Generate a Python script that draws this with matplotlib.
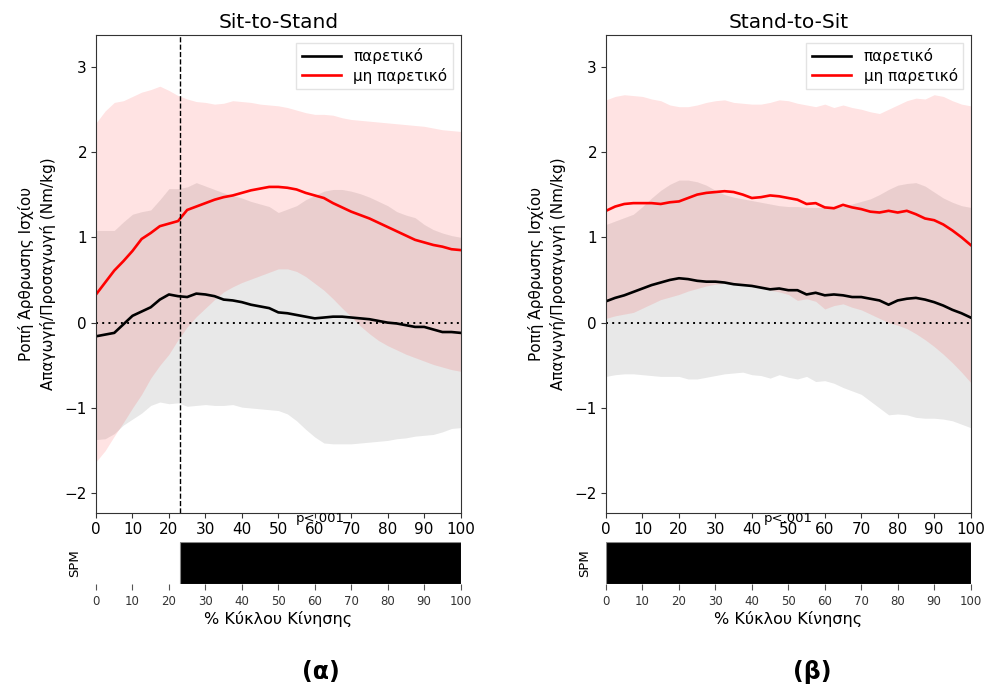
# Ροπή ισχίου - SPM (Sit-to-Stand / Stand-to-Sit)
import matplotlib
matplotlib.use('Agg')
import matplotlib.pyplot as plt
import numpy as np

# Dados (x = % ciclo)
x = np.arange(0, 100.1, 2.5)

# Sit-to-Stand
sts_red_mean = [0.33, 0.47, 0.61, 0.72, 0.84, 0.98, 1.05, 1.13, 1.16, 1.19, 1.32, 1.36, 1.40, 1.44,
                1.47, 1.49, 1.52, 1.55, 1.57, 1.59, 1.59, 1.58, 1.56, 1.52, 1.49, 1.46, 1.40, 1.35,
                1.30, 1.26, 1.22, 1.17, 1.12, 1.07, 1.02, 0.97, 0.94, 0.91, 0.89, 0.86, 0.85]
sts_red_up = [2.34, 2.48, 2.58, 2.60, 2.65, 2.70, 2.73, 2.77, 2.72, 2.66, 2.62, 2.59, 2.58, 2.56,
              2.57, 2.60, 2.59, 2.58, 2.56, 2.55, 2.54, 2.52, 2.49, 2.46, 2.44, 2.44, 2.43, 2.40,
              2.38, 2.37, 2.36, 2.35, 2.34, 2.33, 2.32, 2.31, 2.30, 2.28, 2.26, 2.25, 2.24]
sts_red_low = [-1.63, -1.50, -1.33, -1.17, -1.00, -0.84, -0.65, -0.50, -0.37, -0.20, -0.05, 0.07,
               0.17, 0.27, 0.36, 0.42, 0.47, 0.51, 0.55, 0.59, 0.63, 0.63, 0.60, 0.54, 0.46, 0.38,
               0.28, 0.17, 0.07, -0.04, -0.13, -0.21, -0.27, -0.32, -0.37, -0.41, -0.45, -0.49,
               -0.52, -0.55, -0.57]
sts_blk_mean = [-0.16, -0.14, -0.12, -0.02, 0.08, 0.13, 0.18, 0.27, 0.33, 0.31, 0.30, 0.34, 0.33,
                0.31, 0.27, 0.26, 0.24, 0.21, 0.19, 0.17, 0.12, 0.11, 0.09, 0.07, 0.05, 0.06, 0.07,
                0.07, 0.06, 0.05, 0.04, 0.02, 0.00, -0.01, -0.03, -0.05, -0.05, -0.08, -0.11,
                -0.11, -0.12]
sts_blk_up = [1.08, 1.08, 1.08, 1.18, 1.27, 1.30, 1.32, 1.44, 1.57, 1.57, 1.59, 1.64, 1.60, 1.56,
              1.52, 1.49, 1.46, 1.42, 1.39, 1.36, 1.29, 1.33, 1.37, 1.44, 1.49, 1.54, 1.56, 1.56,
              1.54, 1.51, 1.47, 1.42, 1.37, 1.30, 1.26, 1.23, 1.15, 1.09, 1.05, 1.02, 1.00]
sts_blk_low = [-1.37, -1.36, -1.30, -1.20, -1.13, -1.06, -0.97, -0.93, -0.95, -0.94, -0.98, -0.97,
               -0.96, -0.97, -0.97, -0.96, -0.99, -1.00, -1.01, -1.02, -1.03, -1.07, -1.15, -1.25,
               -1.34, -1.41, -1.42, -1.42, -1.42, -1.41, -1.40, -1.39, -1.38, -1.36, -1.35, -1.33,
               -1.32, -1.31, -1.28, -1.24, -1.23]

# Stand-to-Sit
sit_red_mean = [1.31, 1.36, 1.39, 1.40, 1.40, 1.40, 1.39, 1.41, 1.42, 1.46, 1.50, 1.52, 1.53, 1.54,
                1.53, 1.50, 1.46, 1.47, 1.49, 1.48, 1.46, 1.44, 1.39, 1.40, 1.35, 1.34, 1.38, 1.35,
                1.33, 1.30, 1.29, 1.31, 1.29, 1.31, 1.27, 1.22, 1.20, 1.15, 1.08, 1.00, 0.91]
sit_red_up = [2.61, 2.65, 2.67, 2.66, 2.65, 2.62, 2.60, 2.55, 2.53, 2.53, 2.55, 2.58, 2.60, 2.61,
              2.58, 2.57, 2.56, 2.56, 2.58, 2.61, 2.60, 2.57, 2.55, 2.53, 2.56, 2.52, 2.55, 2.52,
              2.50, 2.47, 2.45, 2.50, 2.55, 2.60, 2.63, 2.62, 2.67, 2.65, 2.60, 2.56, 2.54]
sit_red_low = [0.05, 0.08, 0.10, 0.12, 0.17, 0.22, 0.27, 0.30, 0.33, 0.37, 0.40, 0.43, 0.45, 0.46,
               0.45, 0.45, 0.44, 0.41, 0.38, 0.36, 0.33, 0.26, 0.28, 0.25, 0.16, 0.20, 0.22, 0.18,
               0.15, 0.10, 0.05, 0.00, -0.03, -0.07, -0.13, -0.20, -0.28, -0.37, -0.47, -0.58, -0.70]
sit_blk_mean = [0.25, 0.29, 0.32, 0.36, 0.40, 0.44, 0.47, 0.50, 0.52, 0.51, 0.49, 0.48, 0.48, 0.47,
                0.45, 0.44, 0.43, 0.41, 0.39, 0.40, 0.38, 0.38, 0.33, 0.35, 0.32, 0.33, 0.32, 0.30,
                0.30, 0.28, 0.26, 0.21, 0.26, 0.28, 0.29, 0.27, 0.24, 0.20, 0.15, 0.11, 0.06]
sit_blk_up = [1.15, 1.19, 1.23, 1.27, 1.36, 1.46, 1.55, 1.62, 1.67, 1.67, 1.65, 1.61, 1.55, 1.50,
              1.47, 1.45, 1.43, 1.41, 1.39, 1.37, 1.36, 1.36, 1.35, 1.35, 1.35, 1.35, 1.36, 1.39,
              1.42, 1.45, 1.50, 1.56, 1.61, 1.63, 1.64, 1.60, 1.53, 1.46, 1.41, 1.37, 1.35]
sit_blk_low = [-0.63, -0.61, -0.60, -0.60, -0.61, -0.62, -0.63, -0.63, -0.63, -0.66, -0.66, -0.64,
               -0.62, -0.60, -0.59, -0.58, -0.61, -0.62, -0.65, -0.61, -0.64, -0.66, -0.63, -0.69,
               -0.68, -0.71, -0.76, -0.80, -0.84, -0.92, -1.00, -1.08, -1.07, -1.08, -1.11, -1.12,
               -1.12, -1.13, -1.15, -1.19, -1.23]

# clusters SPM (início, fim) e p
sts_cluster = (23, 100)
sit_cluster = (0, 100)
p_text = 'p<.001'

titulos = ['Sit-to-Stand', 'Stand-to-Sit']
legendas = ['παρετικό', 'μη παρετικό']
ylabel = 'Ροπή Άρθρωσης Ισχίου\nΑπαγωγή/Προσαγωγή (Nm/kg)'
xlabel = '% Κύκλου Κίνησης'
rotulos = ['(α)', '(β)']

plt.rcParams['font.family'] = ['DejaVu Sans']

fig = plt.figure(figsize=(9.88, 6.91), dpi=100)

painel = [
    (sts_red_mean, sts_red_up, sts_red_low, sts_blk_mean, sts_blk_up, sts_blk_low, sts_cluster, 23),
    (sit_red_mean, sit_red_up, sit_red_low, sit_blk_mean, sit_blk_up, sit_blk_low, sit_cluster, None),
]
lefts = [0.0972, 0.6134]
rot_x = [0.325, 0.822]

for i, (rm, ru, rl, bm, bu, bl, cl, vline) in enumerate(painel):
    ax = fig.add_axes([lefts[i], 0.2576, 0.3690, 0.6918])
    ax.fill_between(x, bl, bu, color='k', alpha=0.09, lw=0)
    ax.fill_between(x, rl, ru, color='red', alpha=0.11, lw=0)
    ax.plot(x, bm, color='k', lw=1.9, label=legendas[0])
    ax.plot(x, rm, color='red', lw=1.9, label=legendas[1])
    ax.axhline(0, color='k', ls=(0, (1, 2.2)), lw=1.4)
    if vline is not None:
        ax.axvline(vline, color='k', ls='--', lw=1.0)
    ax.set_xlim(0, 100)
    ax.set_ylim(-2.23, 3.37)
    ax.set_xticks(range(0, 101, 10))
    ax.set_yticks([-2, -1, 0, 1, 2, 3])
    ax.tick_params(labelsize=11, length=3.5, color='#333333', pad=3)
    for s in ax.spines.values():
        s.set_color('#333333')
    ax.set_title(titulos[i], fontsize=14.5, pad=5)
    ax.set_ylabel(ylabel, fontsize=11, linespacing=1.45)
    ax.yaxis.set_label_coords(-0.11, 0.5)
    ax.legend(loc='upper right', fontsize=11, handlelength=2.6, labelspacing=0.25,
              borderpad=0.35, fancybox=False, edgecolor='#dddddd')
    ax.text((cl[0] + cl[1]) / 2, -0.011, p_text, transform=ax.get_xaxis_transform(),
            ha='center', va='center', fontsize=9.5)

    # eixo SPM
    ax2 = fig.add_axes([lefts[i], 0.1548, 0.3690, 0.0608])
    ax2.bar(cl[0], 1, width=cl[1] - cl[0], align='edge', color='k', edgecolor='#888888', lw=0.8)
    ax2.set_xlim(0, 100)
    ax2.set_ylim(0, 1)
    ax2.set_yticks([])
    ax2.set_xticks(range(0, 101, 10))
    ax2.tick_params(labelsize=8.5, length=4, color='#555555', labelcolor='#333333', pad=4)
    for s in ax2.spines.values():
        s.set_visible(False)
    ax2.set_ylabel('SPM', fontsize=9.5)
    ax2.yaxis.set_label_coords(-0.04, 0.5)
    ax2.set_xlabel(xlabel, fontsize=11.5, labelpad=2)

    fig.text(rot_x[i], 0.027, rotulos[i], ha='center', va='center', fontsize=17, fontweight='bold')

plt.savefig('out.png', dpi=100)
